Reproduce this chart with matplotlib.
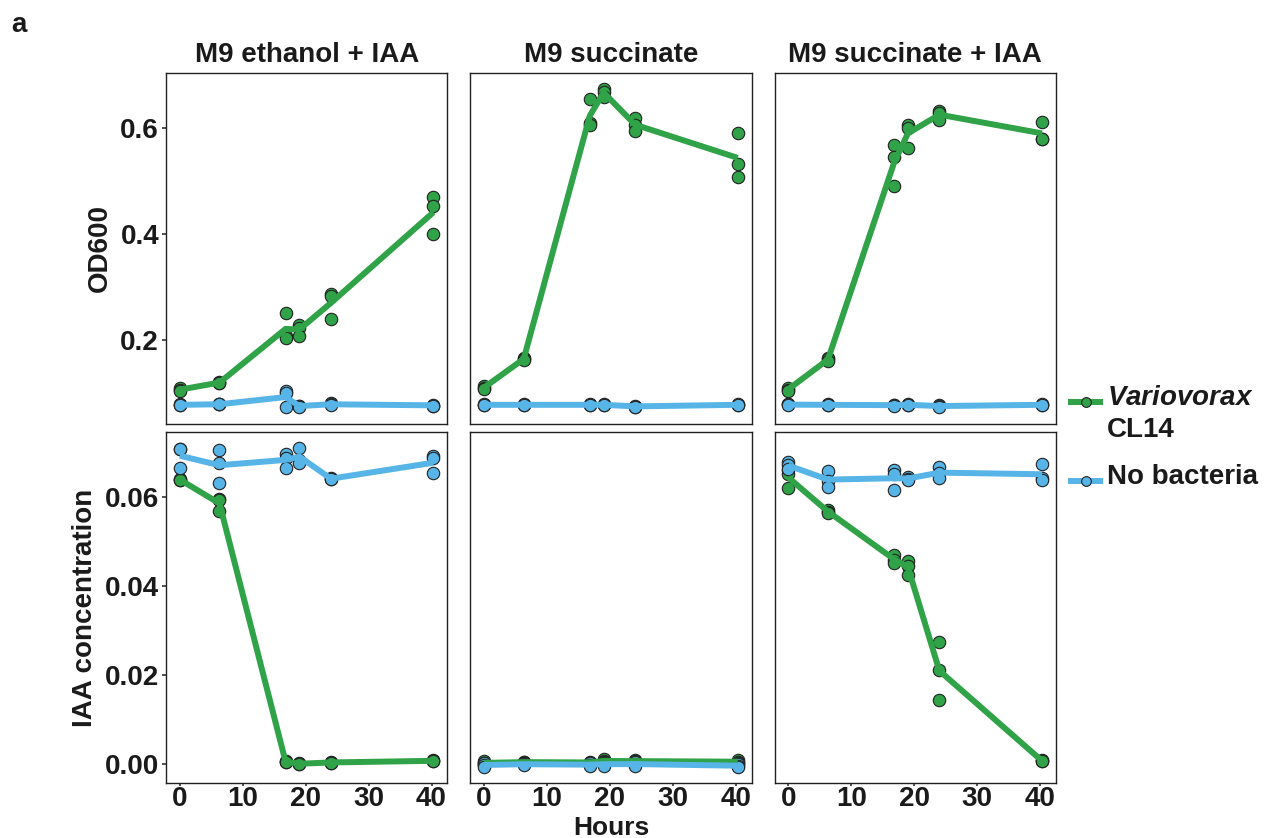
import matplotlib
matplotlib.use('Agg')
import matplotlib.pyplot as plt
import numpy as np
from matplotlib.lines import Line2D

plt.rcParams['font.family'] = ['Liberation Sans', 'DejaVu Sans']
plt.rcParams['font.weight'] = 'bold'
plt.rcParams['mathtext.fontset'] = 'custom'
plt.rcParams['mathtext.bfit'] = 'Liberation Sans:italic:bold'

hours = [0, 6.3, 16.8, 19, 24, 40.3]
titles = ['M9 ethanol + IAA', 'M9 succinate', 'M9 succinate + IAA']

# OD600, three replicates per time point
od_eth_cl14 = [[0.110, 0.105, 0.103], [0.121, 0.119, 0.118], [0.250, 0.208, 0.204],
               [0.229, 0.222, 0.208], [0.287, 0.282, 0.240], [0.470, 0.453, 0.400]]
od_eth_nob = [[0.078, 0.077, 0.077], [0.079, 0.078, 0.078], [0.104, 0.099, 0.073],
              [0.076, 0.075, 0.074], [0.080, 0.078, 0.077], [0.077, 0.076, 0.076]]
od_suc_cl14 = [[0.112, 0.110, 0.108], [0.166, 0.164, 0.162], [0.655, 0.610, 0.605],
               [0.674, 0.668, 0.659], [0.619, 0.606, 0.594], [0.590, 0.533, 0.508]]
od_suc_nob = [[0.078, 0.077, 0.077], [0.078, 0.077, 0.077], [0.078, 0.077, 0.077],
              [0.078, 0.077, 0.077], [0.075, 0.074, 0.074], [0.078, 0.077, 0.077]]
od_suciaa_cl14 = [[0.110, 0.106, 0.104], [0.165, 0.163, 0.161], [0.568, 0.545, 0.491],
                  [0.606, 0.601, 0.563], [0.633, 0.628, 0.615], [0.612, 0.579, 0.579]]
od_suciaa_nob = [[0.078, 0.078, 0.077], [0.078, 0.077, 0.077], [0.077, 0.077, 0.076],
                 [0.078, 0.077, 0.077], [0.077, 0.075, 0.073], [0.078, 0.077, 0.077]]

# IAA concentration
iaa_eth_cl14 = [[0.0642, 0.0640, 0.0638], [0.0596, 0.0594, 0.0569], [0.0007, 0.0005, 0.0004],
                [0.0001, 0.0000, 0.0000], [0.0004, 0.0003, 0.0003], [0.0008, 0.0007, 0.0006]]
iaa_eth_nob = [[0.0708, 0.0708, 0.0665], [0.0706, 0.0678, 0.0633], [0.0697, 0.0689, 0.0667],
               [0.0712, 0.0685, 0.0678], [0.0643, 0.0642, 0.0641], [0.0692, 0.0688, 0.0654]]
iaa_suc_cl14 = [[0.0007, 0.0002, -0.0002], [0.0005, 0.0004, 0.0003], [0.0005, 0.0003, 0.0002],
                [0.0010, 0.0006, 0.0004], [0.0009, 0.0006, 0.0004], [0.0008, 0.0005, 0.0002]]
iaa_suc_nob = [[0.0002, -0.0003, -0.0006], [0.0002, -0.0001, -0.0003], [0.0001, -0.0002, -0.0004],
               [0.0003, -0.0001, -0.0004], [0.0004, -0.0001, -0.0004], [0.0000, -0.0004, -0.0008]]
iaa_suciaa_cl14 = [[0.0662, 0.0652, 0.0620], [0.0572, 0.0568, 0.0564], [0.0471, 0.0458, 0.0453],
                   [0.0456, 0.0446, 0.0426], [0.0274, 0.0212, 0.0143], [0.0008, 0.0007, 0.0006]]
iaa_suciaa_nob = [[0.0680, 0.0672, 0.0663], [0.0659, 0.0637, 0.0624], [0.0661, 0.0652, 0.0616],
                  [0.0646, 0.0642, 0.0639], [0.0668, 0.0655, 0.0644], [0.0674, 0.0643, 0.0639]]

green = '#30a247'
blue = '#56b4e6'
txt = '#1a1a1a'
fs = 20

panels = [
    [(od_eth_cl14, od_eth_nob), (od_suc_cl14, od_suc_nob), (od_suciaa_cl14, od_suciaa_nob)],
    [(iaa_eth_cl14, iaa_eth_nob), (iaa_suc_cl14, iaa_suc_nob), (iaa_suciaa_cl14, iaa_suciaa_nob)],
]

fig, axes = plt.subplots(2, 3, figsize=(12.69, 8.38), dpi=100)
fig.subplots_adjust(left=0.1308, right=0.832, top=0.9129, bottom=0.0656,
                    wspace=0.0816, hspace=0.0256)

def draw(ax, reps, color):
    xs = np.repeat(hours, [len(r) for r in reps])
    ys = np.concatenate(reps)
    ax.scatter(xs, ys, s=80, color=color, edgecolor='#222222', linewidth=0.8, zorder=2)

def line(ax, reps, color, z):
    ax.plot(hours, [np.mean(r) for r in reps], color=color, lw=4.3,
            solid_capstyle='butt', solid_joinstyle='miter', zorder=z)

for r in range(2):
    for c in range(3):
        ax = axes[r, c]
        cl, nb = panels[r][c]
        draw(ax, cl, green)
        draw(ax, nb, blue)
        line(ax, cl, green, 3)
        line(ax, nb, blue, 4)
        ax.set_xlim(-2.2, 42.5)
        for s in ax.spines.values():
            s.set_linewidth(1.0)
            s.set_color('#222222')
        ax.tick_params(direction='out', length=3, width=1.2, color='#333333',
                       labelsize=fs, labelcolor=txt, pad=2)
        ax.tick_params(axis='x', length=2, pad=0)
        ax.set_xticks([0, 10, 20, 30, 40])
        if r == 0:
            ax.set_ylim(0.042, 0.704)
            ax.set_yticks([0.2, 0.4, 0.6])
            ax.set_yticklabels(['0.2', '0.4', '0.6'])
            ax.tick_params(axis='x', length=0, labelbottom=False)
            ax.set_title(titles[c], fontsize=fs, fontweight='bold', pad=8, color=txt)
        else:
            ax.set_ylim(-0.0043, 0.0746)
            ax.set_yticks([0, 0.02, 0.04, 0.06])
            ax.set_yticklabels(['0.00', '0.02', '0.04', '0.06'])
        if c > 0:
            ax.tick_params(axis='y', length=0, labelleft=False)
        for lab in ax.get_xticklabels() + ax.get_yticklabels():
            lab.set_fontweight('bold')

axes[0, 0].set_ylabel('OD600', fontsize=fs, fontweight='bold', labelpad=5, color=txt)
axes[1, 0].set_ylabel('IAA concentration', fontsize=fs, fontweight='bold', labelpad=5, color=txt)
fig.text(0.482, -0.002, 'Hours', ha='center', va='bottom', fontsize=19, fontweight='bold', color=txt)
fig.text(0.009, 0.962, 'a', fontsize=fs, fontweight='bold', color=txt)

# legend drawn by hand so the handle lines up with the first text line
for yy, col in [(0.520, green), (0.426, blue)]:
    fig.add_artist(Line2D([0.8416, 0.8692], [yy, yy], transform=fig.transFigure,
                          color=col, lw=4.3, solid_capstyle='butt'))
    fig.add_artist(Line2D([0.8554], [yy], transform=fig.transFigure, marker='o',
                          markersize=7, markerfacecolor=col, markeredgecolor='#222222',
                          markeredgewidth=0.8, linestyle='none'))
fig.text(0.8725, 0.525, r'$\mathbfit{Variovorax}$', fontsize=fs, va='center', color=txt)
fig.text(0.8725, 0.487, 'CL14', fontsize=fs, fontweight='bold', va='center', color=txt)
fig.text(0.8725, 0.431, 'No bacteria', fontsize=fs, fontweight='bold', va='center', color=txt)

fig.savefig('out.png', dpi=100)
